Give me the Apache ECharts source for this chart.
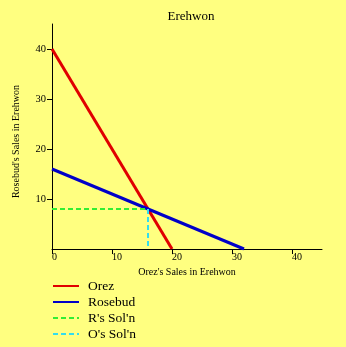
<!DOCTYPE html>
<html><head><meta charset="utf-8">
<script src="https://cdn.jsdelivr.net/npm/echarts@6/dist/echarts.min.js"></script>
<style>html,body{margin:0;padding:0;background:#FFFF80;}#c{width:346px;height:347px;}</style>
</head><body><div id="c"></div>
<script>
const seriesNames = ["Orez", "Rosebud", "R's Sol'n", "O's Sol'n"];
const orez = [[0, 40], [20, 0]];
const rosebud = [[0, 16], [32, 0]];
const rSoln = [[0, 8], [16, 8]];
const oSoln = [[16, 8], [16, 0]];
const colors = ["#E00000", "#0000C8", "#33EE33", "#33DDEE"];

const font = "'Liberation Serif', 'DejaVu Serif', serif";
const chart = echarts.init(document.getElementById('c'));
chart.setOption({
  backgroundColor: '#FFFF80',
  animation: false,
  title: {text: 'Erehwon', left: 186, top: 5, textAlign: 'center',
    textStyle: {fontFamily: font, fontSize: 13, fontWeight: 'normal', color: '#000'}},
  grid: {left: 52, right: 24, top: 24, bottom: 98, containLabel: false},
  legend: {orient: 'vertical', left: 47, top: 274, itemWidth: 26, itemHeight: 14, itemGap: 2,
    data: seriesNames,
    itemStyle: {opacity: 0},
    textStyle: {fontFamily: font, fontSize: 13.5, color: '#000', padding: [0, 0, 0, 4]}},
  xAxis: {type: 'value', min: 0, max: 45, interval: 10,
    name: "Orez's Sales in Erehwon", nameLocation: 'middle', nameGap: 18,
    nameTextStyle: {fontFamily: font, fontSize: 10, color: '#000'},
    axisLine: {show: true, onZero: false, lineStyle: {color: '#000', width: 1}},
    axisTick: {show: true, length: 5, lineStyle: {color: '#000'}},
    axisLabel: {showMaxLabel: false, fontFamily: font, fontSize: 10, color: '#000', margin: 3, align: 'left'},
    splitLine: {show: false}},
  yAxis: {type: 'value', min: 0, max: 45, interval: 10,
    name: "Rosebud's Sales in Erehwon", nameLocation: 'middle', nameGap: 31, nameRotate: 90,
    nameTextStyle: {fontFamily: font, fontSize: 10, color: '#000', padding: [0, 10, 0, 0]},
    axisLine: {show: true, onZero: false, lineStyle: {color: '#000', width: 1}},
    axisTick: {show: true, length: 5, lineStyle: {color: '#000'}},
    axisLabel: {showMinLabel: false, showMaxLabel: false, fontFamily: font, fontSize: 10.5, color: '#000', margin: 6},
    splitLine: {show: false}},
  series: [
    {name: seriesNames[0], type: 'line', data: orez, symbol: 'none', color: colors[0], lineStyle: {width: 3, color: colors[0]}},
    {name: seriesNames[1], type: 'line', data: rosebud, symbol: 'none', color: colors[1], lineStyle: {width: 3, color: colors[1]}},
    {name: seriesNames[2], type: 'line', data: rSoln, symbol: 'none', color: colors[2], lineStyle: {width: 2, type: [5, 3], color: colors[2]}},
    {name: seriesNames[3], type: 'line', data: oSoln, symbol: 'none', color: colors[3], lineStyle: {width: 2, type: [5, 3], color: colors[3]}}
  ]
});
</script></body></html>
